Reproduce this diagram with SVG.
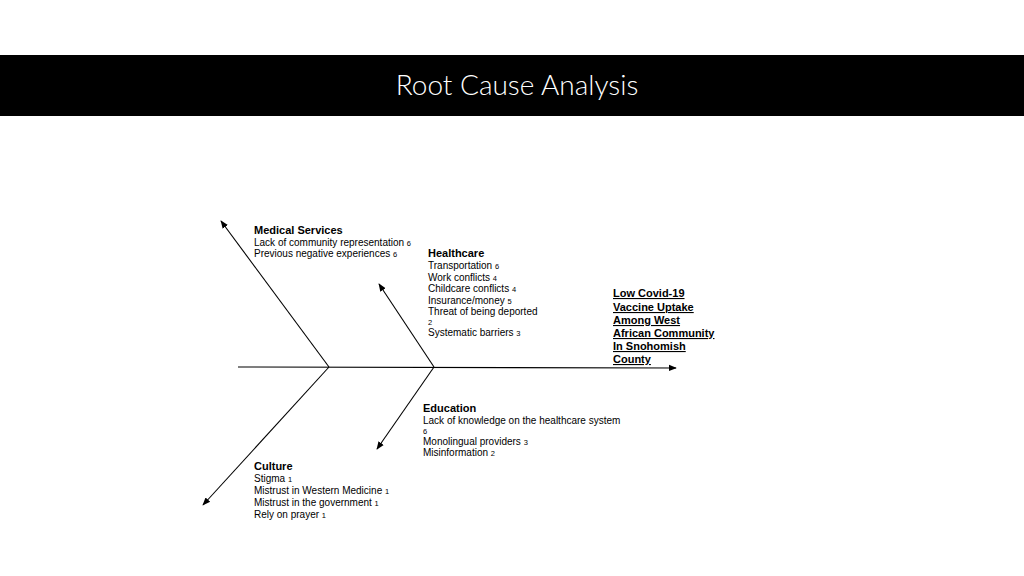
<svg xmlns="http://www.w3.org/2000/svg" width="1024" height="576" viewBox="0 0 1024 576">
<style>
text{font-family:"Liberation Sans",Arial,sans-serif;fill:#000}
.h{font-weight:bold;font-size:11px}
.t{font-size:10px}
.s{font-size:7.5px}
.o{font-weight:bold;font-size:11px;text-decoration:underline}
line{stroke:#000;stroke-width:1.1}
</style>
<defs><marker id="a" viewBox="0 0 10 10" refX="9" refY="5" markerWidth="8" markerHeight="8" orient="auto" markerUnits="userSpaceOnUse"><path d="M0,1 L10,5 L0,9 z" fill="#000"/></marker></defs>
<rect width="1024" height="576" fill="#fff"/>
<g id="title"><rect x="0" y="55" width="1024" height="61" fill="#000"/>
<text x="517" y="95" text-anchor="middle" style="font-family:Lato,'Open Sans',sans-serif;font-weight:300;font-size:28px;fill:#fff">Root Cause Analysis</text></g>
<g id="connectors">
<line x1="238" y1="367" x2="676" y2="368" marker-end="url(#a)"/>
<line x1="329" y1="367" x2="221" y2="221" marker-end="url(#a)"/>
<line x1="434" y1="367" x2="379" y2="284" marker-end="url(#a)"/>
<line x1="329" y1="367" x2="203" y2="505" marker-end="url(#a)"/>
<line x1="434" y1="367" x2="377" y2="449" marker-end="url(#a)"/>
</g>
<g id="medical"><text class="h" x="254" y="234">Medical Services</text>
<text class="t" x="254" y="246">Lack of community representation <tspan class="s">6</tspan></text>
<text class="t" x="254" y="257">Previous negative experiences <tspan class="s">6</tspan></text></g>
<g id="healthcare"><text class="h" x="428" y="257">Healthcare</text>
<text class="t" x="428" y="269">Transportation <tspan class="s">6</tspan></text>
<text class="t" x="428" y="281">Work conflicts <tspan class="s">4</tspan></text>
<text class="t" x="428" y="292">Childcare conflicts <tspan class="s">4</tspan></text>
<text class="t" x="428" y="304">Insurance/money <tspan class="s">5</tspan></text>
<text class="t" x="428" y="315">Threat of being deported</text>
<text class="s" x="428" y="325">2</text>
<text class="t" x="428" y="336">Systematic barriers <tspan class="s">3</tspan></text></g>
<g id="outcome">
<text class="o" x="613" y="297">Low Covid-19</text>
<text class="o" x="613" y="311">Vaccine Uptake</text>
<text class="o" x="613" y="324">Among West</text>
<text class="o" x="613" y="337">African Community</text>
<text class="o" x="613" y="350">In Snohomish</text>
<text class="o" x="613" y="363">County</text></g>
<g id="education"><text class="h" x="423" y="412">Education</text>
<text class="t" x="423" y="424">Lack of knowledge on the healthcare system</text>
<text class="s" x="423" y="434">6</text>
<text class="t" x="423" y="445">Monolingual providers <tspan class="s">3</tspan></text>
<text class="t" x="423" y="456">Misinformation <tspan class="s">2</tspan></text></g>
<g id="culture"><text class="h" x="254" y="470">Culture</text>
<text class="t" x="254" y="482">Stigma <tspan class="s">1</tspan></text>
<text class="t" x="254" y="494">Mistrust in Western Medicine <tspan class="s">1</tspan></text>
<text class="t" x="254" y="506">Mistrust in the government <tspan class="s">1</tspan></text>
<text class="t" x="254" y="518">Rely on prayer <tspan class="s">1</tspan></text></g>
</svg>
